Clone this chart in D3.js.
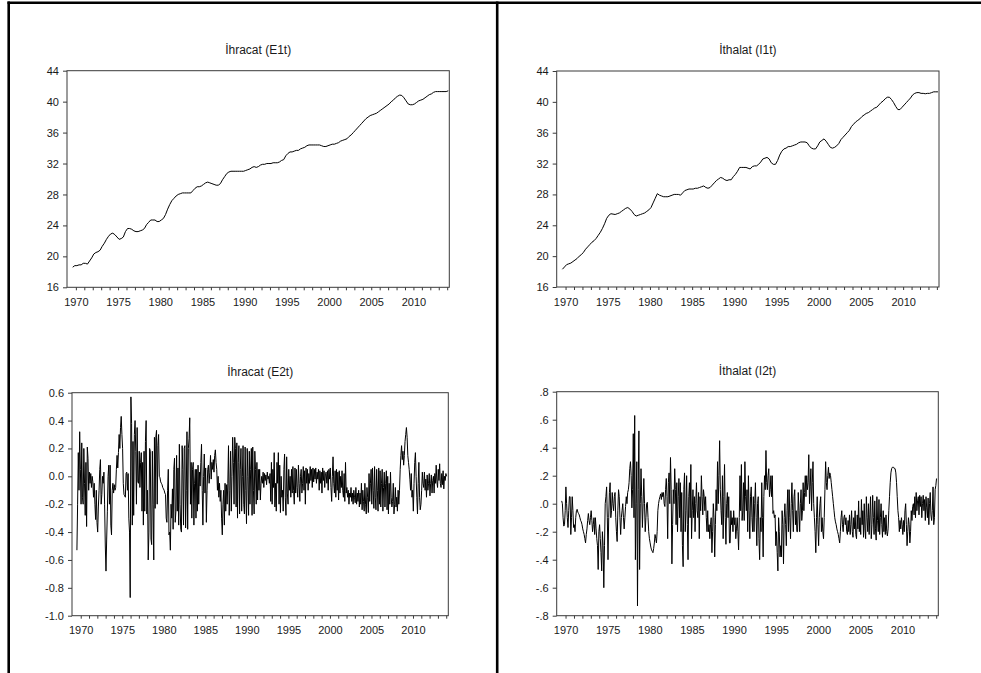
<!DOCTYPE html>
<html><head><meta charset="utf-8">
<script src="https://cdn.jsdelivr.net/npm/d3@7"></script>
<style>
body{margin:0;background:#fff}
svg{display:block}
text{font-family:"Liberation Sans",Arial,sans-serif;fill:#1a1a1a}
</style>
</head><body>
<svg id="c" width="981" height="673"></svg>
<script>
// ---------------- data ----------------
const titles = ["İhracat (E1t)", "İthalat (I1t)", "İhracat (E2t)", "İthalat (I2t)"];
const tickYears = d3.range(1970, 2015);            // minor ticks, one per year
const labelYears = [1970, 1975, 1980, 1985, 1990, 1995, 2000, 2005, 2010];
const levelTicks = [16, 20, 24, 28, 32, 36, 40, 44];
const e2tTicks = [-1.0, -0.8, -0.6, -0.4, -0.2, 0.0, 0.2, 0.4, 0.6];
const i2tTicks = [-0.8, -0.6, -0.4, -0.2, 0.0, 0.2, 0.4, 0.6, 0.8];

// quarterly, 1970Q1 - 2014Q3
const e1t = [
 18.6,18.8,18.8,18.9, 18.9,19.1,19.1,19.0, 19.4,19.8,20.3,20.5, 20.6,20.8,21.3,21.7,
 22.2,22.6,22.9,23.0, 22.8,22.5,22.2,22.3, 22.5,23.2,23.6,23.6, 23.5,23.3,23.2,23.2,
 23.3,23.4,23.6,24.1, 24.4,24.7,24.7,24.7, 24.5,24.5,24.7,24.9, 25.4,26.1,26.7,27.2,
 27.5,27.8,28.0,28.1, 28.2,28.2,28.2,28.2, 28.2,28.5,28.8,29.0, 29.0,29.1,29.3,29.5,
 29.6,29.5,29.4,29.3, 29.2,29.2,29.4,29.9, 30.3,30.7,30.9,31.0, 31.0,31.0,31.0,31.0,
 31.0,31.0,31.1,31.2, 31.3,31.5,31.6,31.5, 31.6,31.8,31.9,31.9, 32.0,32.0,32.0,32.1,
 32.1,32.1,32.2,32.4, 32.5,33.0,33.3,33.5, 33.5,33.6,33.7,33.7, 33.9,34.0,34.1,34.3,
 34.4,34.4,34.4,34.4, 34.4,34.4,34.3,34.2, 34.2,34.3,34.4,34.5, 34.5,34.6,34.7,34.9,
 35.0,35.1,35.2,35.5, 35.7,36.0,36.3,36.6, 36.9,37.2,37.5,37.8, 38.0,38.2,38.3,38.4,
 38.5,38.7,38.9,39.1, 39.3,39.5,39.7,40.0, 40.2,40.5,40.7,40.85, 40.8,40.5,40.1,39.7,
 39.6,39.6,39.7,39.9, 40.1,40.2,40.3,40.5, 40.7,40.9,41.0,41.2, 41.3,41.3,41.3,41.3,
 41.3,41.3,41.4
];
const i1t = [
 18.3,18.6,18.9,19.0, 19.1,19.3,19.5,19.7, 20.0,20.2,20.5,20.9, 21.2,21.5,21.8,22.0,
 22.3,22.7,23.1,23.6, 24.2,24.9,25.3,25.5, 25.45,25.4,25.5,25.6, 25.8,26.0,26.2,26.3,
 26.1,25.8,25.4,25.2, 25.3,25.4,25.5,25.6, 25.8,26.0,26.3,26.9, 27.5,28.1,27.9,27.8,
 27.7,27.7,27.7,27.8, 27.9,28.0,28.0,28.0, 27.9,28.2,28.5,28.6, 28.7,28.7,28.7,28.8,
 28.8,28.9,29.0,29.1, 28.9,28.8,28.9,29.2, 29.5,29.8,30.0,30.2, 30.1,29.9,29.8,29.9,
 29.9,30.3,30.6,31.0, 31.5,31.5,31.5,31.5, 31.4,31.3,31.6,31.7, 31.7,31.9,32.2,32.6,
 32.7,32.8,32.6,32.1, 31.9,31.9,32.4,33.1, 33.6,33.9,34.0,34.2, 34.2,34.3,34.4,34.5,
 34.7,34.8,34.8,34.8, 34.7,34.3,34.0,33.9, 33.9,34.3,34.8,35.0, 35.2,34.9,34.5,34.1,
 34.0,34.1,34.3,34.6, 35.1,35.4,35.7,36.0, 36.3,36.8,37.1,37.4, 37.6,37.8,38.1,38.3,
 38.5,38.6,38.8,39.0, 39.2,39.3,39.6,39.9, 40.1,40.4,40.6,40.6, 40.3,39.9,39.4,39.0,
 39.0,39.3,39.6,39.9, 40.2,40.5,40.9,41.1, 41.2,41.2,41.1,41.1, 41.05,41.1,41.1,41.2,
 41.3,41.3,41.3
];

// monthly, 1970M1 - 2014M7
const e2t = [
 -0.53,-0.20,0.17,-0.10,0.32,0.05,-0.20,0.24,-0.15,-0.20,0.20,-0.05,
 -0.28,0.10,-0.36,0.21,0.13,-0.10,0.03,-0.05,0.02,-0.08,0.00,-0.04,
 -0.15,-0.05,-0.20,-0.31,-0.10,-0.33,-0.40,-0.22,-0.10,0.05,0.12,-0.20,
 -0.13,0.00,-0.05,0.03,-0.20,-0.50,-0.68,-0.45,-0.25,0.00,0.08,-0.20,
 0.08,-0.35,-0.42,-0.10,-0.05,-0.12,-0.06,-0.10,-0.08,0.05,0.15,0.06,
 0.17,0.30,0.20,0.35,0.43,0.30,0.20,-0.05,-0.13,-0.14,-0.15,0.02,
 0.03,-0.10,0.02,-0.30,-0.40,-0.87,0.57,0.38,-0.35,0.25,-0.28,0.30,
 0.40,0.18,-0.20,0.35,-0.04,-0.05,0.18,-0.08,0.10,0.17,-0.25,0.10,
 -0.35,0.18,-0.25,0.25,0.40,-0.27,-0.10,-0.60,-0.40,0.20,0.18,-0.45,
 -0.49,0.18,-0.20,-0.60,0.28,-0.23,0.28,0.33,-0.20,0.22,0.30,0.00,
 -0.01,-0.04,-0.05,-0.06,-0.08,-0.09,-0.10,-0.12,-0.13,-0.30,-0.33,-0.10,
 0.05,-0.42,-0.40,-0.53,-0.20,-0.30,-0.09,-0.38,0.05,0.13,-0.33,-0.25,
 0.15,-0.25,0.06,-0.35,0.23,-0.20,-0.38,-0.40,0.22,0.05,-0.35,0.20,
 0.22,-0.37,-0.10,0.32,-0.38,0.20,0.27,0.42,-0.20,0.10,-0.30,0.05,
 0.10,-0.35,-0.05,0.05,-0.30,0.05,-0.25,0.08,-0.20,0.03,-0.07,0.10,
 0.23,-0.10,-0.35,0.00,0.16,-0.12,0.06,-0.33,-0.10,0.05,0.08,-0.05,
 0.03,0.15,-0.02,0.10,0.05,0.12,0.03,0.15,0.19,0.10,0.05,-0.10,
 0.00,-0.15,-0.05,-0.18,-0.10,-0.30,-0.42,-0.20,-0.10,-0.35,-0.05,-0.25,
 -0.06,-0.20,-0.05,0.22,-0.28,-0.10,0.18,-0.25,0.00,0.28,0.10,-0.20,
 0.28,0.20,-0.22,0.24,-0.30,0.10,0.22,-0.27,0.05,0.20,-0.25,0.00,
 0.22,-0.20,-0.27,0.21,-0.10,-0.34,0.20,0.00,-0.28,0.18,-0.20,0.05,
 0.20,-0.28,0.21,-0.10,-0.27,0.18,0.05,-0.20,0.10,-0.17,0.05,-0.10,
 0.05,-0.17,-0.05,0.00,-0.05,0.03,-0.08,0.02,-0.03,0.01,-0.06,0.03,
 -0.02,0.00,-0.05,0.02,-0.18,0.10,-0.20,0.05,-0.08,0.17,-0.22,-0.05,
 -0.25,0.10,-0.05,0.17,-0.20,0.08,-0.26,0.00,-0.15,-0.10,-0.25,0.05,
 0.16,-0.15,-0.28,0.14,-0.12,-0.20,0.05,-0.10,0.00,-0.15,0.05,-0.12,
 0.07,-0.10,-0.20,0.06,-0.12,0.05,-0.08,-0.15,0.08,-0.05,-0.18,0.00,
 0.05,-0.12,-0.05,0.07,-0.10,0.04,-0.20,0.06,-0.05,0.05,-0.10,0.02,
 -0.05,0.07,-0.03,0.05,-0.08,0.06,-0.04,0.05,-0.02,0.06,-0.05,0.03,
 -0.02,0.05,-0.10,0.04,-0.05,0.03,-0.12,0.06,-0.03,0.04,-0.08,0.02,
 0.03,-0.05,0.04,-0.10,0.05,-0.02,0.06,-0.08,-0.18,0.00,0.14,-0.05,
 -0.12,0.04,-0.15,0.05,-0.10,0.03,-0.17,0.04,-0.12,0.00,-0.08,0.04,
 -0.10,-0.15,0.02,-0.18,0.10,-0.12,-0.08,-0.15,-0.10,-0.20,-0.12,-0.15,
 -0.08,-0.18,-0.12,-0.20,-0.10,-0.15,-0.19,-0.08,-0.20,-0.12,-0.18,-0.10,
 -0.22,-0.12,-0.20,-0.05,-0.24,-0.10,-0.18,-0.25,-0.05,-0.20,-0.27,-0.08,
 -0.15,-0.26,0.02,-0.18,-0.05,0.05,-0.20,0.06,-0.10,-0.23,0.07,-0.15,
 -0.24,0.05,-0.10,-0.25,0.06,-0.20,0.04,-0.22,-0.05,0.05,-0.25,-0.08,
 0.03,-0.22,-0.05,0.04,-0.24,0.00,-0.27,-0.05,-0.20,0.03,-0.15,-0.22,
 -0.18,-0.05,-0.27,-0.20,-0.08,-0.22,-0.15,-0.25,-0.10,-0.20,-0.10,0.05,
 0.15,0.22,0.12,0.18,0.08,0.15,0.25,0.30,0.35,0.28,0.15,0.10,
 0.05,-0.02,-0.10,0.02,-0.15,-0.10,-0.25,-0.05,0.10,0.17,0.00,-0.15,
 -0.27,-0.05,0.10,-0.15,-0.24,-0.20,-0.10,0.03,-0.05,-0.08,0.03,-0.10,
 -0.02,-0.15,0.01,-0.10,-0.05,0.02,-0.14,-0.05,0.01,-0.12,-0.03,0.00,
 -0.12,0.02,-0.05,0.08,-0.04,-0.08,0.05,-0.03,0.09,-0.05,-0.08,0.02,
 -0.06,0.04,-0.09,0.00,-0.03,0.02,0.00
];
const i2t = [
 0.02,0.00,-0.10,-0.16,-0.15,-0.05,0.12,0.00,-0.10,-0.17,-0.05,0.05,
 0.05,-0.22,-0.10,0.05,-0.05,-0.17,-0.15,-0.20,-0.10,-0.05,-0.04,-0.06,
 -0.07,-0.08,-0.10,-0.12,-0.13,-0.15,-0.18,-0.20,-0.22,-0.25,-0.28,-0.22,
 -0.18,-0.12,-0.07,-0.12,-0.15,-0.10,-0.05,-0.12,-0.20,-0.15,-0.10,-0.22,
 -0.10,-0.18,-0.25,-0.30,-0.47,-0.20,-0.15,-0.25,-0.35,-0.48,-0.20,-0.30,
 -0.60,-0.30,0.00,0.05,0.12,-0.10,-0.40,-0.10,0.08,0.15,-0.10,-0.05,
 0.08,0.00,-0.05,0.05,0.08,-0.10,-0.20,-0.27,-0.05,0.10,0.05,-0.10,
 -0.22,-0.10,-0.05,0.00,-0.10,-0.18,-0.10,-0.02,0.05,0.00,0.08,0.10,
 0.15,0.25,0.30,0.20,-0.03,0.10,0.50,-0.10,0.63,-0.40,0.00,0.30,
 -0.73,0.10,0.52,-0.47,0.00,0.25,0.05,-0.17,0.00,0.18,0.00,-0.20,
 -0.10,0.00,0.01,-0.10,-0.20,-0.25,-0.28,-0.31,-0.33,-0.34,-0.35,-0.32,
 -0.28,-0.22,-0.25,-0.28,-0.20,-0.05,0.00,0.03,0.05,0.07,0.03,0.08,
 0.05,0.08,0.00,-0.02,0.10,0.18,0.05,-0.25,0.15,0.22,0.00,0.33,
 0.10,-0.43,-0.15,0.10,0.00,0.25,0.10,-0.15,0.15,-0.20,0.05,0.18,
 -0.10,0.15,-0.20,0.08,-0.30,-0.45,0.10,0.22,-0.20,-0.05,0.20,-0.15,
 -0.40,0.05,0.15,-0.10,0.28,-0.25,-0.05,0.10,-0.10,0.05,-0.20,0.00,
 0.15,-0.05,-0.10,0.08,-0.25,0.05,-0.05,0.20,0.05,-0.08,0.10,0.05,
 -0.05,0.05,-0.10,-0.20,-0.05,-0.20,-0.15,-0.25,-0.15,-0.10,-0.35,-0.20,
 0.00,-0.10,-0.38,-0.15,0.10,-0.05,0.30,0.00,0.20,0.45,0.10,-0.05,
 -0.15,0.20,-0.25,0.05,0.28,-0.10,-0.29,0.00,0.08,-0.10,0.05,-0.28,
 -0.28,-0.05,-0.15,-0.10,-0.20,-0.05,-0.15,-0.10,-0.25,-0.18,-0.10,-0.20,
 -0.33,-0.10,0.20,-0.05,0.28,-0.12,-0.05,0.15,-0.12,0.30,0.05,-0.05,
 0.10,-0.20,0.20,-0.05,-0.25,0.05,0.12,-0.10,-0.20,0.05,-0.20,0.00,
 0.15,-0.10,-0.30,0.00,0.05,-0.25,-0.40,-0.10,-0.20,0.15,-0.10,-0.38,
 0.05,0.20,0.10,0.38,0.15,0.10,0.20,0.25,0.05,0.10,0.20,0.05,
 0.20,-0.07,-0.05,-0.10,-0.08,-0.30,-0.20,-0.35,-0.48,-0.10,-0.20,-0.38,
 -0.30,-0.38,-0.05,-0.15,-0.43,-0.10,0.00,-0.15,-0.30,-0.05,0.10,-0.20,
 0.10,-0.10,-0.25,0.00,0.15,-0.05,-0.20,0.05,0.10,-0.15,-0.05,-0.20,
 -0.20,0.08,-0.05,-0.20,0.00,0.10,-0.12,-0.05,0.15,-0.05,0.08,0.20,
 0.05,0.20,0.10,0.15,0.35,0.00,0.12,0.25,-0.05,0.15,0.30,0.00,
 -0.10,-0.20,-0.35,-0.10,0.05,-0.15,-0.30,-0.10,0.00,0.05,-0.20,-0.10,
 -0.20,-0.25,-0.10,0.10,0.30,0.15,0.10,0.20,0.26,0.18,0.22,0.20,
 0.15,0.10,0.05,0.00,-0.05,-0.10,-0.13,-0.15,-0.18,-0.20,-0.22,-0.25,
 -0.28,-0.20,-0.10,-0.05,-0.15,-0.20,-0.10,-0.08,-0.15,-0.10,-0.20,-0.22,
 -0.12,-0.20,-0.08,-0.22,-0.15,-0.05,-0.20,-0.24,-0.10,-0.18,-0.05,-0.22,
 -0.25,-0.08,-0.18,0.02,-0.20,-0.10,-0.22,0.03,-0.15,-0.05,-0.24,0.00,
 -0.18,-0.25,0.05,-0.10,-0.20,0.00,-0.22,-0.08,0.05,-0.25,-0.15,0.06,
 -0.10,-0.22,0.02,-0.18,-0.26,0.05,-0.12,-0.20,0.03,-0.22,-0.10,0.00,
 -0.15,-0.24,-0.05,-0.20,-0.10,-0.22,-0.08,-0.20,-0.23,-0.18,-0.05,0.05,
 0.15,0.22,0.25,0.26,0.26,0.26,0.25,0.25,0.22,0.15,0.05,-0.05,
 -0.10,-0.20,-0.12,-0.18,-0.10,-0.15,-0.22,-0.12,-0.20,-0.05,0.00,-0.15,
 -0.30,-0.20,-0.10,-0.15,-0.28,-0.20,-0.05,-0.12,-0.02,0.00,-0.08,0.05,
 -0.10,0.08,-0.05,0.02,0.05,-0.08,0.06,-0.02,0.05,-0.10,0.00,0.06,
 -0.05,0.03,-0.12,0.05,-0.03,-0.10,0.04,-0.15,0.00,0.08,-0.08,-0.12,
 -0.05,0.12,-0.15,-0.10,0.10,0.13,0.18
];

// ---------------- drawing ----------------
const svg = d3.select("#c");
const fix = s => s.replace(/\u2212/g, "-");
const fmtLevel = d => String(d);
const fmtE2 = d => fix(d3.format(".1f")(d));
const fmtI2 = d => fix(d3.format(".1f")(d)).replace(/^(-?)0\./, "$1.");

const panels = [
  {title: titles[0], data: e1t, per: 4,  x0: 67,    x1: 449.3, y0: 70.7,  y1: 287.3, dom: [16, 44],   ticks: levelTicks, fmt: fmtLevel},
  {title: titles[1], data: i1t, per: 4,  x0: 556.7, x1: 939,   y0: 71,    y1: 287,   dom: [16, 44],   ticks: levelTicks, fmt: fmtLevel},
  {title: titles[2], data: e2t, per: 12, x0: 72,    x1: 448.3, y0: 392.7, y1: 615.7, dom: [-1.0, 0.6], ticks: e2tTicks, fmt: fmtE2},
  {title: titles[3], data: i2t, per: 12, x0: 556.7, x1: 938.3, y0: 391.7, y1: 615.7, dom: [-0.8, 0.8], ticks: i2tTicks, fmt: fmtI2}
];

panels.forEach(p => {
  const x = d3.scaleLinear().domain([1969.45, 2014.75]).range([p.x0, p.x1]);
  const y = d3.scaleLinear().domain(p.dom).range([p.y1, p.y0]);
  const g = svg.append("g");

  // title
  g.append("text")
    .attr("x", (p.x0 + p.x1) / 2).attr("y", p.y0 - 17)
    .attr("text-anchor", "middle").attr("font-size", 12)
    .text(p.title);

  // frame
  g.append("rect")
    .attr("x", p.x0).attr("y", p.y0)
    .attr("width", p.x1 - p.x0).attr("height", p.y1 - p.y0)
    .attr("fill", "none").attr("stroke", "#3a3a3a").attr("stroke-width", 1);

  // y axis
  const ya = g.append("g").attr("transform", `translate(${p.x0},0)`)
    .call(d3.axisLeft(y).tickValues(p.ticks).tickFormat(p.fmt).tickSize(4).tickPadding(4));
  ya.select(".domain").remove();
  ya.selectAll("line").attr("stroke", "#3a3a3a");
  ya.selectAll("text").attr("font-size", 11).attr("font-family", '"Liberation Sans",Arial,sans-serif').attr("fill", "#1a1a1a");

  // x axis
  const xa = g.append("g").attr("transform", `translate(0,${p.y1})`)
    .call(d3.axisBottom(x).tickValues(tickYears.map(v => v + 0.5))
      .tickFormat(d => labelYears.includes(d - 0.5) ? String(d - 0.5) : "")
      .tickSize(3).tickPadding(8));
  xa.select(".domain").remove();
  xa.selectAll("line").attr("stroke", "#3a3a3a");
  xa.selectAll("text").attr("font-size", 11).attr("font-family", '"Liberation Sans",Arial,sans-serif').attr("fill", "#1a1a1a");

  // series line
  const line = d3.line()
    .x((d, i) => x(1970 + (i + 0.5) / p.per))
    .y(d => y(d));
  g.append("path").datum(p.data)
    .attr("d", line).attr("fill", "none")
    .attr("stroke", "#000").attr("stroke-width", 1)
    .attr("stroke-linejoin", "miter");
});

// outer page borders
svg.append("line").attr("x1", 7.5).attr("x2", 981).attr("y1", 2.7).attr("y2", 2.7)
  .attr("stroke", "#000").attr("stroke-width", 2.6);
svg.append("line").attr("x1", 8.7).attr("x2", 8.7).attr("y1", 1.4).attr("y2", 673)
  .attr("stroke", "#000").attr("stroke-width", 2.6);
svg.append("line").attr("x1", 497.2).attr("x2", 497.2).attr("y1", 1.4).attr("y2", 673)
  .attr("stroke", "#000").attr("stroke-width", 2.6);
</script>
</body></html>
